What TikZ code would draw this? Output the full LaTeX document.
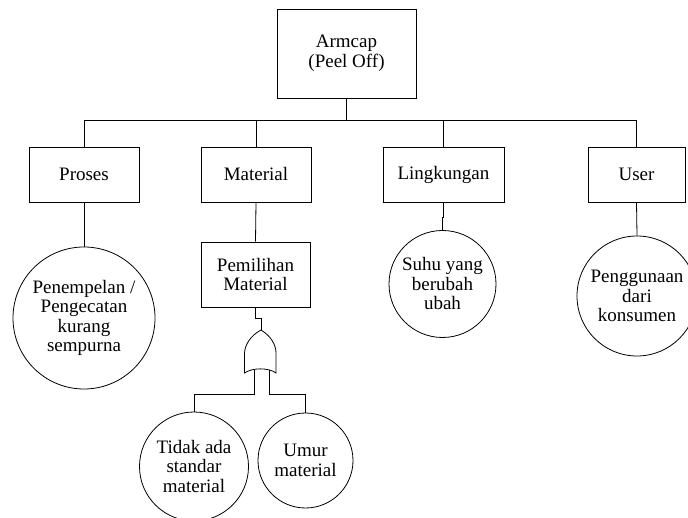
\documentclass[tikz,border=0pt]{standalone}
\usepackage{fontspec}
\setmainfont{Liberation Serif}
\begin{document}
\begin{tikzpicture}[x=1pt,y=-1pt,line width=0.8pt,
  every node/.style={font=\fontsize{19}{19.5}\selectfont, align=center, inner sep=0pt},
  event/.style={draw, rectangle},
  cause/.style={draw, circle},
  wire/.style={draw, line width=0.8pt}]
\useasboundingbox (0,0) rectangle (688,518);

% top event and first level
\node[event, minimum width=139pt, minimum height=89pt] (top) at (346.5,53.5) {Armcap\\(Peel Off)};
\node[event, minimum width=110pt, minimum height=55pt] (proses) at (84,174.5) {Proses};
\node[event, minimum width=110pt, minimum height=55pt] (material) at (256,174.5) {Material};
\node[event, minimum width=121pt, minimum height=55pt] (lingk) at (443.5,174.5) {Lingkungan};
\node[event, minimum width=97pt, minimum height=55pt] (user) at (636.5,174.5) {User};

% second level
\node[event, minimum width=109pt, minimum height=65pt] (pemilihan) at (255.5,274.5) {Pemilihan\\Material};
\node[cause, minimum size=142pt] (c1) at (84,318) {Penempelan /\\Pengecatan\\kurang\\sempurna};
\node[cause, minimum size=107pt] (c2) at (442.5,284) {Suhu yang\\berubah\\ubah};
\node[cause, minimum size=120pt] (c3) at (637,296) {Penggunaan\\dari\\konsumen};

% basic events under the OR gate
\node[cause, minimum size=109pt] (c4) at (194,466.5) {Tidak ada\\standar\\material};
\node[cause, minimum size=95pt] (c5) at (305.5,460.5) {Umur\\material};

% bus below the top event
\coordinate (busL) at (84,120);
\coordinate (busR) at (636.5,120);
\draw (proses.north) -- (busL) -- (busR) -- (user.north);
\draw (top.south) -- (top.south |- busL);
\draw (material.north) -- (material.north |- busL);
\draw (lingk.north) -- (lingk.north |- busL);

% first level to causes
\draw (proses.south) -- (c1.north);
\draw (material.south) -- (pemilihan.north);
\draw (lingk.south) -- ++(0,15) -| (c2.north);
\draw (user.south) -- (c3.north);

% OR gate
\coordinate (gtop) at (261,330);
\coordinate (gin1) at (254,370.5);
\coordinate (gin2) at (269.5,370.5);
\draw (gtop) .. controls (250,336) and (245,345) .. (244.5,353) -- (244.5,373)
      .. controls (252,367.5) and (269,367.5) .. (276,373) -- (276,353)
      .. controls (276,345) and (271,336) .. (gtop);
\draw (pemilihan.south) -- ++(0,11) -| (gtop);
\draw (gin1) -- (254,394) -| (c4.north);
\draw (gin2) -- (269.5,394) -| (c5.north);
\end{tikzpicture}
\end{document}
